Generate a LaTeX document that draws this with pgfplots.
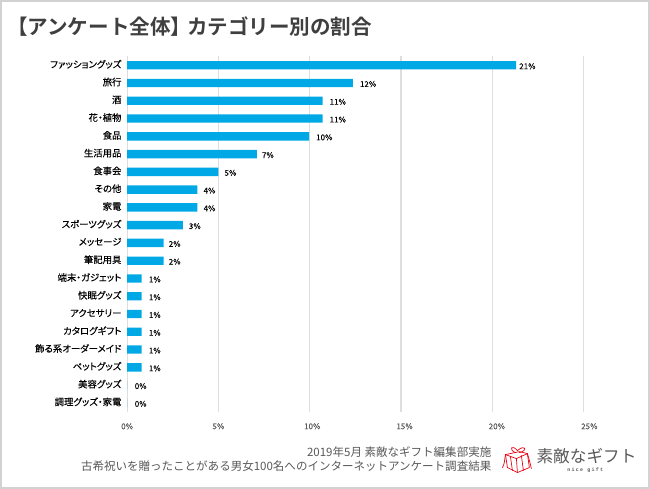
\documentclass[border=0pt]{standalone}
\usepackage{fontspec}
\setmainfont{Noto Sans CJK JP}[BoldFont=Noto Sans CJK JP Bold]
\newfontfamily\lab{Noto Sans CJK JP}[RawFeature=+palt,FakeBold=0.1]
\newfontfamily\mono{Liberation Mono}[LetterSpace=25]
\usepackage{pgfplots}
\pgfplotsset{compat=1.18}
\usepackage{pgfplotstable}
\definecolor{barblue}{HTML}{00A9E6}
\definecolor{gridgray}{HTML}{DEDEDE}
\definecolor{framegray}{HTML}{D2D2D2}
\definecolor{titlegray}{HTML}{3F3F3F}
\definecolor{footgray}{HTML}{595959}
\definecolor{giftred}{HTML}{E60012}

% value, row, label, label offset in pt
\pgfplotstableread[col sep=comma]{
val,row,lab,off
21.3,0,21\%,3
12.36,1,12\%,7
10.7,2,11\%,7
10.7,3,11\%,7
9.96,4,10\%,7
7.1,5,7\%,5
5.0,6,5\%,6
3.85,7,4\%,6
3.85,8,4\%,6
3.05,9,3\%,6
2.0,10,2\%,5
2.0,11,2\%,5
0.8,12,1\%,7
0.8,13,1\%,7
0.8,14,1\%,7
0.8,15,1\%,7
0.8,16,1\%,7
0.8,17,1\%,7
0,18,0\%,7.5
0,19,0\%,7.5
}\shares

\begin{document}
\begin{tikzpicture}[x=1pt,y=1pt]
\fill[white] (0,0) rectangle (650,488);
\draw[framegray,line width=2pt] (0,488) -- (650,488) -- (650,0) -- (0,0) -- cycle;
\begin{axis}[
  at={(126.5pt,76pt)}, anchor=south west,
  scale only axis, width=458pt, height=357pt,
  xmin=0, xmax=25, ymin=-0.53, ymax=19.5,
  y dir=reverse,
  axis line style={draw=none},
  tick style={draw=none},
  xtick={0,5,...,25},
  xticklabels={0\%,5\%,\hspace{5pt}10\%,\hspace{7pt}15\%,\hspace{9pt}20\%,\hspace{11.4pt}25\%},
  xticklabel style={font=\lab\fontsize{8}{8}\selectfont, text=footgray, yshift=-8pt},
  grid=none, xmajorgrids, major grid style={gridgray, line width=1.2pt},
  ytick={0,...,19},
  yticklabels={ファッショングッズ,旅行,酒,花・植物,食品,生活用品,食事会,その他,家電,スポーツグッズ,メッセージ,筆記用具,端末・ガジェット,快眠グッズ,アクセサリー,カタログギフト,飾る系オーダーメイド,ペットグッズ,美容グッズ,調理グッズ・家電},
  yticklabel style={font=\lab\fontsize{9.4}{9.5}\selectfont, text=black, inner sep=0pt, xshift=-5.5pt, yshift=1pt},
  clip=false,
  /pgf/number format/assume math mode=true,
]
\addplot[
  xbar, bar width=8.4pt, fill=barblue, draw=none, bar shift=0pt,
  point meta=explicit symbolic,
  visualization depends on={\thisrow{off}\as\labeloff},
  nodes near coords,
  every node near coord/.append style={font=\lab\fontsize{8}{8}\selectfont, text=black, anchor=west, inner sep=0pt, xshift=\labeloff pt, yshift=-1pt},
] table[x=val,y=row,meta=lab] {\shares};
\end{axis}
% title and footer
\node[anchor=west,inner sep=0pt,text=titlegray] at (6,462) {\fontsize{20.6}{21}\selectfont\bfseries 【アンケート全体】\hspace{-4pt}カテゴリー別の割合};
\node[anchor=east,inner sep=0pt,text=footgray] at (492,36) {\fontsize{11.55}{12}\selectfont 2019年5月 素敵なギフト編集部実施};
\node[anchor=east,inner sep=0pt,text=footgray] at (492,21) {\fontsize{11.55}{12}\selectfont 古希祝いを贈ったことがある男女100名へのインターネットアンケート調査結果};
% logo
\begin{scope}[giftred,line width=0.7pt,line join=round,line cap=round]
\draw (506,33) -- (520,36) -- (528,34) -- (530,20) -- (518,15) -- (508,20) -- cycle;
\draw (506,33) -- (517,29) -- (528,34);
\draw (517,29) -- (518,15);
\draw (511,31) -- (513,17);
\draw (522,32) -- (524,17);
\draw (518,37) .. controls (512,44) and (509,38) .. (516,35);
\draw (518,37) .. controls (526,44) and (529,37) .. (520,35);
\draw (506,33) .. controls (505,27) and (505,23) .. (503,20);
\draw (528,34) .. controls (530,28) and (531,23) .. (532,19);
\end{scope}
\node[anchor=west,inner sep=0pt,text=footgray] at (537,32) {\fontsize{16.7}{17}\selectfont 素敵なギフト};
\node[anchor=center,inner sep=0pt,text=footgray] at (586,17) {\mono\bfseries\fontsize{5}{6}\selectfont nice gift};
\end{tikzpicture}
\end{document}
